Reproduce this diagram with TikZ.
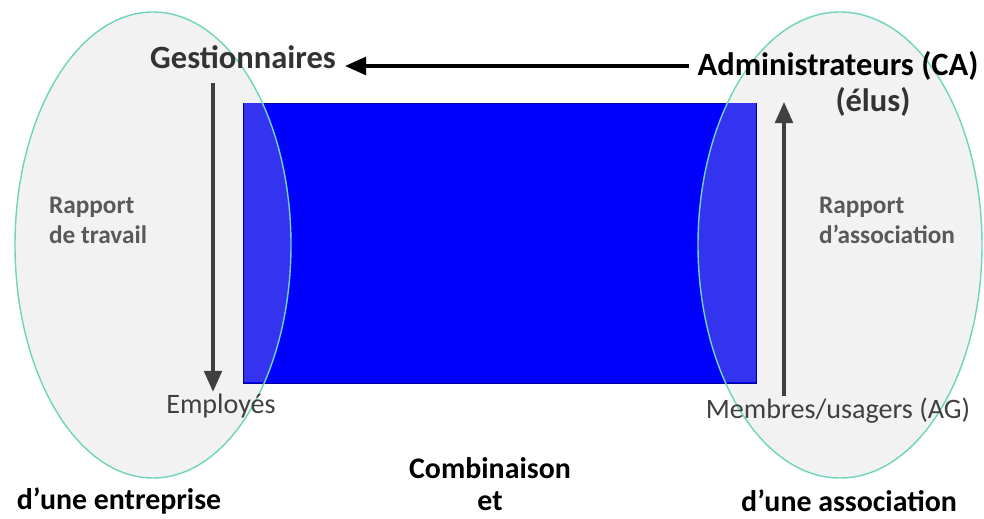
\documentclass[tikz,border=0pt]{standalone}
\usepackage{fontspec}
\setmainfont{Carlito}
\usetikzlibrary{arrows.meta,positioning}
\definecolor{ovalgrey}{RGB}{242,242,242}
\definecolor{ovalline}{RGB}{110,212,188}
\definecolor{boxblue}{RGB}{0,0,255}
\definecolor{mixblue}{RGB}{52,52,240}
\definecolor{arrowgrey}{RGB}{64,64,64}
\definecolor{textgrey}{RGB}{89,89,89}

\begin{document}
\begin{tikzpicture}[x=0.02cm, y=-0.02cm, inner sep=1pt,
    big/.style={font=\fontsize{18.5}{21}\selectfont\bfseries},
    mid/.style={font=\fontsize{14.4}{17}\selectfont\bfseries, text=textgrey, align=left},
    small/.style={font=\fontsize{16}{18}\selectfont, text=arrowgrey},
    foot/.style={font=\fontsize{17}{19}\selectfont\bfseries},
    flow/.style={-{Triangle[length=12pt,width=10pt]}, line width=2.2pt, arrowgrey}]
        \useasboundingbox (0,0) rectangle (984,519);

        % two ovals and the box between them
        \fill[ovalgrey] (153,245) ellipse [x radius=138, y radius=233];
        \fill[ovalgrey] (840,245) ellipse [x radius=142, y radius=233];
        \draw[boxblue!60!black, fill=boxblue] (243,103) rectangle (756,383);
        \begin{scope}
          \clip (153,245) ellipse [x radius=138, y radius=233];
          \fill[mixblue] (243.5,103.5) rectangle (755.5,382.5);
        \end{scope}
        \begin{scope}
          \clip (840,245) ellipse [x radius=142, y radius=233];
          \fill[mixblue] (243.5,103.5) rectangle (755.5,382.5);
        \end{scope}
        \draw[ovalline, line width=0.8pt] (153,245) ellipse [x radius=138, y radius=233];
        \draw[ovalline, line width=0.8pt] (840,245) ellipse [x radius=142, y radius=233];

        % labels
        \node[big, text=black!80] (gest) at (243,57) {Gestionnaires};
        \node[big] (admin) at (838,66) {Administrateurs (CA)};
        \node[big, text=black!80] (elus) at (873,102) {(élus)};
        \node[mid] (travail) at (98,220) {Rapport\\de travail};
        \node[mid] (assoc) at (887,220) {Rapport\\d’association};
        \node[small] (emp) at (221,406) {Employés};
        \node[small] (memb) at (838,411) {Membres/usagers (AG)};
        \node[foot] (comb) at (490,468) {Combinaison};
        \node[foot] (et) at (490,501) {et};
        \node[foot] (entr) at (119,501) {d’une entreprise};
        \node[foot] (asso) at (849,501) {d’une association};

        % arrows
        \coordinate (downx) at (213,83);
        \coordinate (uptip) at (784,102);
        \draw[-{Triangle[length=12pt,width=10pt]}, line width=2.2pt, shorten <=4pt, shorten >=4pt]
          (admin.west) -- (gest.east |- admin.west);
        \draw[flow] (downx) -- (downx |- emp.north);
        \draw[flow] (memb.north -| uptip) -- (uptip);
      \end{tikzpicture}
\end{document}
